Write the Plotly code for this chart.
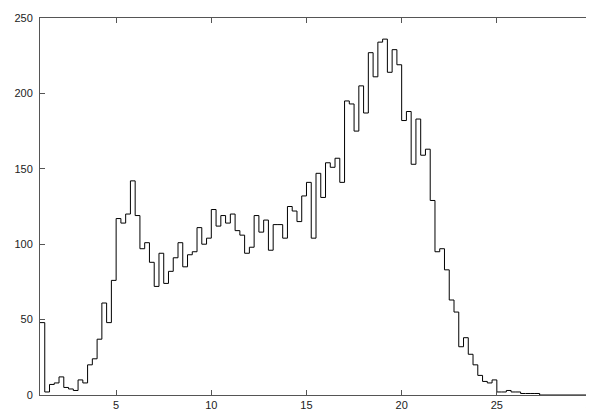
import plotly.graph_objects as go

# Histogram: bins of width 0.25 starting at x = 1
bin_start = 1.0
bin_width = 0.25
counts = [
    48, 2, 7, 8, 12, 5, 4, 3, 10, 8,
    20, 24, 37, 61, 48, 76, 117, 114, 120, 142,
    119, 97, 101, 88, 72, 94, 74, 82, 91, 101,
    85, 93, 95, 111, 100, 104, 123, 112, 119, 114,
    120, 109, 106, 94, 98, 119, 108, 116, 96, 113,
    113, 104, 125, 122, 115, 132, 141, 104, 147, 131,
    154, 151, 157, 141, 195, 193, 175, 205, 187, 227,
    211, 234, 236, 214, 229, 219, 182, 188, 153, 183,
    159, 163, 129, 95, 97, 83, 63, 55, 32, 38,
    27, 20, 13, 9, 8, 10, 2, 2, 3, 2,
    2, 1, 1, 1, 1,
]
x_ticks = [5, 10, 15, 20, 25, 30]
y_ticks = [0, 50, 100, 150, 200, 250]
x_range = [1, 30]
y_range = [0, 250]

edges = [bin_start + bin_width * i for i in range(len(counts) + 1)]
xs = edges + [x_range[1]]
ys = counts + [0, 0]

fig = go.Figure()
fig.add_trace(go.Scatter(
    x=xs, y=ys, mode="lines",
    line=dict(shape="hv", color="black", width=1),
    hoverinfo="skip", showlegend=False,
))

axis_common = dict(
    showgrid=False, zeroline=False,
    showline=True, linecolor="#555", linewidth=1,
    mirror="allticks", ticks="inside", ticklen=5, tickcolor="#555",
    tickfont=dict(family="Liberation Sans, Arial, sans-serif", size=11, color="#222"),
    ticklabeloverflow="allow",
)

fig.update_xaxes(range=x_range, tickvals=x_ticks, **axis_common)
fig.update_yaxes(range=y_range, tickvals=y_ticks, ticklabelstandoff=4, **axis_common)

fig.update_layout(
    width=594, height=411,
    margin=dict(l=32, r=5, t=4, b=24),
    paper_bgcolor="white", plot_bgcolor="white",
    showlegend=False,
)

fig.write_html("out.html")
